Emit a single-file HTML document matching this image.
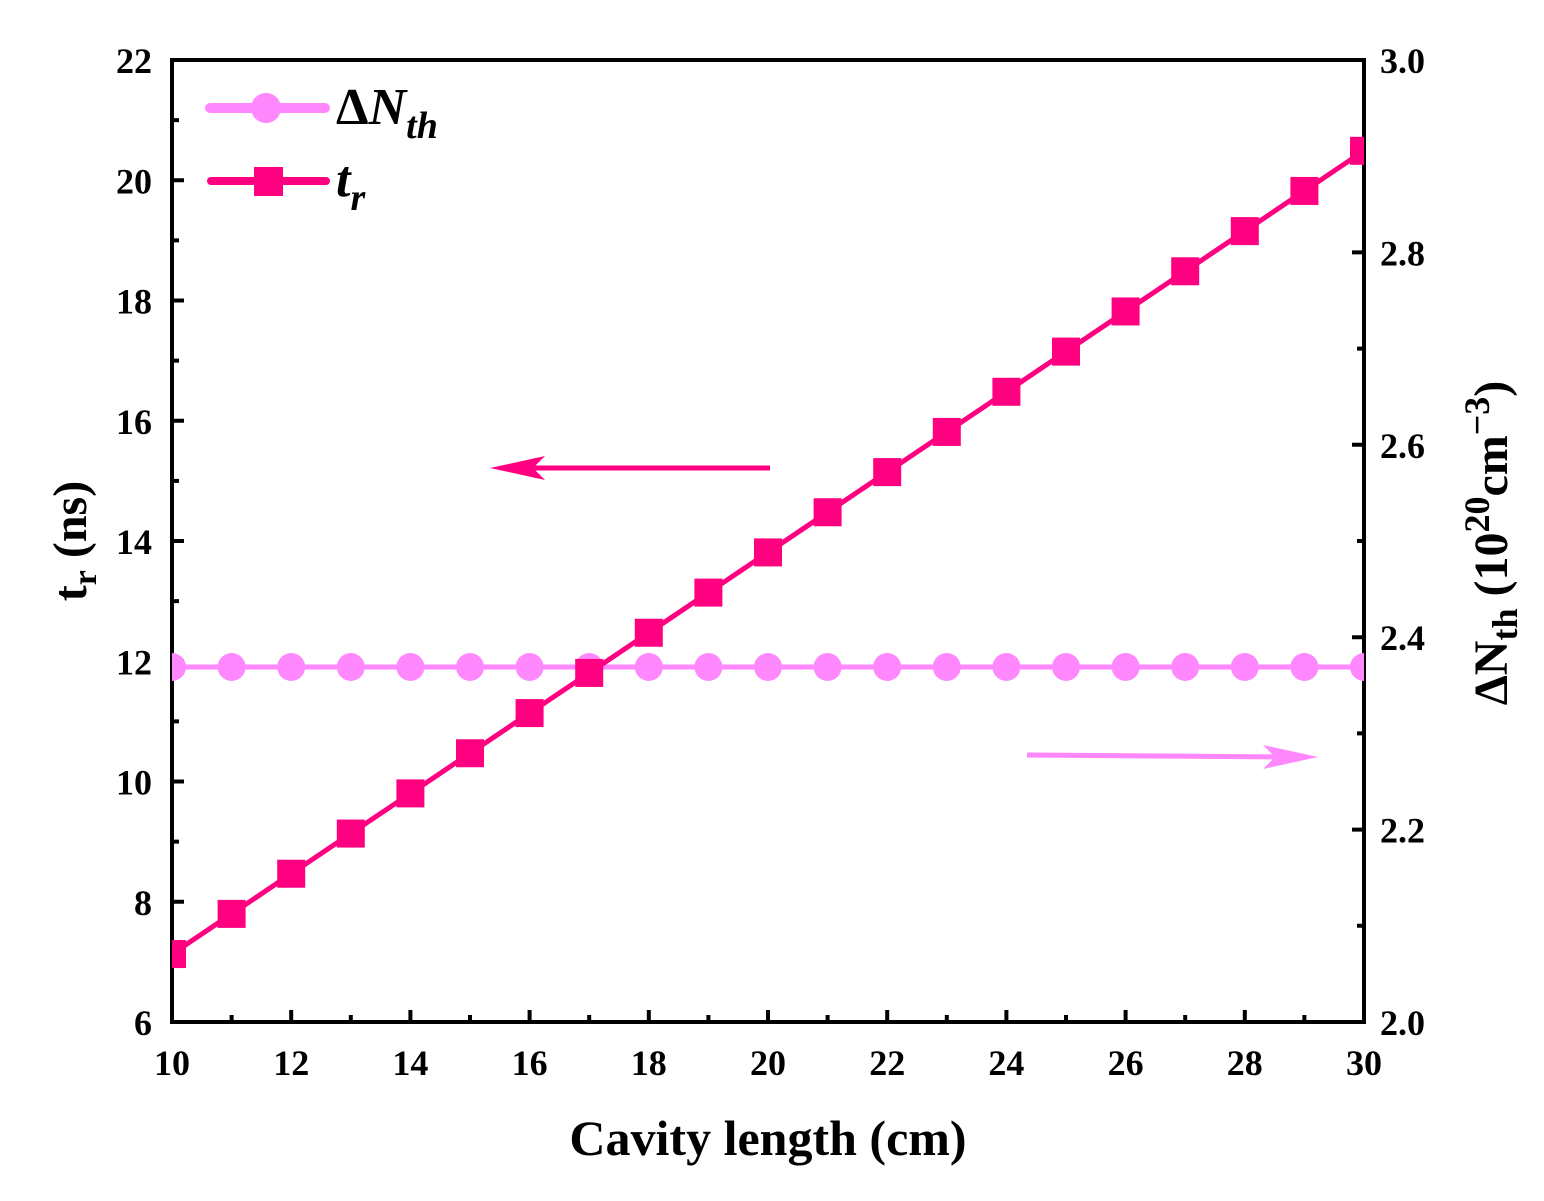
<!DOCTYPE html><html><head><style>body{margin:0;background:#fff}svg{display:block}text{font-family:"Liberation Serif",serif;font-weight:bold}</style></head><body>
<svg width="1544" height="1201" viewBox="0 0 1544 1201" xmlns="http://www.w3.org/2000/svg">
<defs><clipPath id="c"><rect x="172" y="60" width="1192" height="962"/></clipPath></defs>
<g id="main"></g>
<script>
(function(){
var ns="http://www.w3.org/2000/svg",g=document.getElementById("main");
function el(t,a,p){var e=document.createElementNS(ns,t);for(var k in a)e.setAttribute(k,a[k]);(p||g).appendChild(e);return e;}
function X(v){return 172+(v-10)*59.6;}
function YL(v){return 1022-(v-6)*60.125;}
var s="";
for(var v=10;v<=30;v++){var x=X(v);s+="M"+x+",1022V"+(1022-(v%2?7:12));}
for(var v=6;v<=22;v++){var y=YL(v);s+="M172,"+y+"H"+(172+(v%2?7:12));}
for(var i=0;i<=10;i++){var y=1022-i*96.2;s+="M1364,"+y+"H"+(1364-(i%2?7:12));}
el("path",{d:s,stroke:"#000","stroke-width":4,fill:"none"});
el("rect",{x:172,y:60,width:1192,height:962,fill:"none",stroke:"#000","stroke-width":4});
var cg=el("g",{"clip-path":"url(#c)"});
var pn="",pt="";
for(var v=10;v<=30;v++){pn+=(v==10?"M":"L")+X(v)+",667";pt+=(v==10?"M":"L")+X(v)+","+YL(7.13+0.668*(v-10));}
el("path",{d:pn,stroke:"#ff88ff","stroke-width":5,fill:"none"},cg);
el("path",{d:pt,stroke:"#ff0080","stroke-width":5,fill:"none"},cg);
for(var v=10;v<=30;v++){el("circle",{cx:X(v),cy:667,r:14,fill:"#ff88ff"},cg);var y=YL(7.13+0.668*(v-10));el("rect",{x:X(v)-14,y:y-14,width:28,height:28,fill:"#ff0080"},cg);}
for(var v=10;v<=30;v+=2){var t=el("text",{x:X(v),y:1075,"font-size":36,"text-anchor":"middle"});t.textContent=v;}
for(var v=6;v<=22;v+=2){var t=el("text",{x:152,y:YL(v)+13,"font-size":36,"text-anchor":"end"});t.textContent=v;}
for(var i=0;i<=5;i++){var t=el("text",{x:1380,y:1022-i*192.4+13,"font-size":36});t.textContent=(2+i*0.2).toFixed(1);}
el("line",{x1:770,y1:468,x2:530,y2:468,stroke:"#ff0080","stroke-width":5});
el("polygon",{points:"490,468 545,456 533,468 545,480",fill:"#ff0080"});
el("line",{x1:1027,y1:755,x2:1280,y2:757,stroke:"#ff88ff","stroke-width":5});
el("polygon",{points:"1318,757 1263,745 1275,757 1263,769",fill:"#ff88ff"});
el("line",{x1:210,y1:108,x2:325,y2:108,stroke:"#ff88ff","stroke-width":10,"stroke-linecap":"round"});
el("circle",{cx:266,cy:108,r:15,fill:"#ff88ff"});
el("line",{x1:211,y1:181,x2:326,y2:181,stroke:"#ff0080","stroke-width":8,"stroke-linecap":"round"});
el("rect",{x:254,y:167,width:29,height:29,fill:"#ff0080"});
})();
</script>
<text x="336" y="124" font-size="52">Δ<tspan font-style="italic">N</tspan><tspan font-style="italic" font-size="38" dy="14">th</tspan></text>
<text x="336" y="196" font-size="52" font-style="italic">t<tspan font-size="38" dy="14">r</tspan></text>
<text x="768" y="1155" font-size="50" text-anchor="middle">Cavity length (cm)</text>
<text transform="translate(86,541) rotate(-90)" font-size="48" text-anchor="middle">t<tspan font-size="34" dy="10">r</tspan><tspan dy="-10"> (ns)</tspan></text>
<text transform="translate(1507,543) rotate(-90)" font-size="48" text-anchor="middle">ΔN<tspan font-size="36" dy="10">th</tspan><tspan dy="-10"> (10</tspan><tspan font-size="36" dy="-18">20</tspan><tspan dy="18">cm</tspan><tspan font-size="36" dy="-18">−3</tspan><tspan dy="18">)</tspan></text>
</svg>
</body></html>
